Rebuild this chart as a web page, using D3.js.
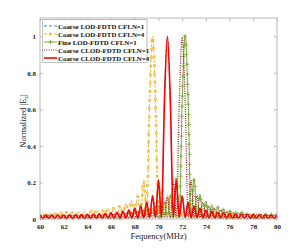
<!DOCTYPE html>
<html><head><meta charset="utf-8">
<script src="https://cdn.jsdelivr.net/npm/d3@7"></script>
<style>
html,body{margin:0;padding:0;background:#fff;}
svg{display:block;}
text{font-family:"Liberation Serif","Times New Roman",serif;}
</style></head>
<body><svg id="chart" width="307" height="248"></svg>
<script>
// ---- data ----
const freq = [60,60.25,60.5,60.75,61,61.25,61.5,61.75,62,62.25,62.5,62.75,63,63.25,63.5,63.75,64,64.25,64.5,64.75,65,65.25,65.5,65.75,66,66.25,66.5,66.75,67,67.25,67.5,67.75,68,68.25,68.5,68.75,69,69.25,69.5,69.75,70,70.25,70.5,70.75,71,71.25,71.5,71.75,72,72.25,72.5,72.75,73,73.25,73.5,73.75,74,74.25,74.5,74.75,75,75.25,75.5,75.75,76,76.25,76.5,76.75,77,77.25,77.5,77.75,78,78.25,78.5,78.75,79,79.25,79.5,79.75,80];

const coarseLOD1 = [0.022,0.006,0.022,0.006,0.023,0.006,0.023,0.006,0.024,0.006,
0.024,0.006,0.025,0.006,0.026,0.006,0.027,0.006,0.028,0.006,
0.030,0.006,0.032,0.006,0.035,0.006,0.039,0.007,0.044,0.007,
0.051,0.007,0.060,0.008,0.074,0.008,0.094,0.009,0.132,0.010,
0.218,0.012,0.650,0.995,0.630,0.012,0.208,0.009,0.124,0.008,
0.089,0.007,0.069,0.007,0.057,0.006,0.048,0.006,0.041,0.006,
0.036,0.006,0.033,0.006,0.030,0.006,0.028,0.006,0.026,0.006,
0.025,0.006,0.024,0.006,0.023,0.006,0.023,0.006,0.022,0.006,
0.022];

const coarseLOD4 = [0.015,0.034,0.015,0.034,0.016,0.035,0.016,0.036,0.017,0.037,
0.017,0.038,0.018,0.040,0.018,0.042,0.019,0.045,0.020,0.048,
0.021,0.052,0.022,0.058,0.024,0.065,0.026,0.075,0.028,0.085,
0.030,0.100,0.032,0.125,0.035,0.210,0.030,0.640,1.000,0.640,
0.025,0.170,0.020,0.110,0.015,0.080,0.012,0.063,0.010,0.052,
0.009,0.045,0.008,0.040,0.008,0.035,0.007,0.032,0.007,0.029,
0.006,0.027,0.006,0.025,0.006,0.024,0.005,0.023,0.005,0.022,
0.005,0.021,0.005,0.021,0.005,0.020,0.005,0.020,0.005,0.020,
0.005];

const fineLOD1 = [0.020,0.003,0.020,0.003,0.020,0.003,0.021,0.003,0.021,0.003,
0.021,0.003,0.022,0.003,0.022,0.003,0.023,0.003,0.023,0.003,
0.024,0.003,0.025,0.003,0.026,0.003,0.028,0.003,0.031,0.004,
0.035,0.004,0.039,0.004,0.044,0.005,0.051,0.005,0.061,0.006,
0.075,0.006,0.096,0.007,0.133,0.008,0.220,0.010,0.650,1.005,
0.650,0.010,0.222,0.009,0.135,0.008,0.098,0.007,0.078,0.006,
0.064,0.006,0.054,0.005,0.047,0.005,0.042,0.005,0.038,0.004,
0.035,0.004,0.032,0.004,0.030,0.004,0.029,0.004,0.027,0.004,
0.026];

const coarseCLOD1 = [0.004,0.020,0.004,0.020,0.004,0.021,0.004,0.021,0.004,0.021,
0.004,0.022,0.004,0.022,0.004,0.023,0.004,0.023,0.004,0.024,
0.004,0.025,0.004,0.026,0.004,0.028,0.004,0.030,0.004,0.034,
0.004,0.037,0.005,0.042,0.005,0.049,0.005,0.058,0.006,0.071,
0.006,0.091,0.007,0.127,0.008,0.212,0.010,0.640,0.995,0.640,
0.010,0.212,0.008,0.127,0.007,0.091,0.006,0.071,0.006,0.058,
0.005,0.049,0.005,0.042,0.005,0.037,0.004,0.034,0.004,0.030,
0.004,0.028,0.004,0.026,0.004,0.025,0.004,0.024,0.004,0.023,
0.004];

const coarseCLOD4 = [0.021,0.004,0.021,0.004,0.021,0.004,0.022,0.004,0.022,0.004,
0.023,0.004,0.023,0.004,0.024,0.004,0.025,0.004,0.026,0.004,
0.028,0.004,0.030,0.004,0.034,0.004,0.037,0.005,0.042,0.005,
0.049,0.005,0.058,0.006,0.071,0.006,0.091,0.007,0.127,0.008,
0.212,0.010,0.640,1.000,0.640,0.010,0.212,0.008,0.127,0.007,
0.091,0.006,0.071,0.006,0.058,0.005,0.049,0.005,0.042,0.005,
0.037,0.004,0.034,0.004,0.030,0.004,0.028,0.004,0.026,0.004,
0.025,0.004,0.024,0.004,0.023,0.004,0.023,0.004,0.022,0.004,
0.022];

const seriesNames = ["Coarse LOD-FDTD CFLN=1","Coarse LOD-FDTD CFLN=4","Fine LOD-FDTD CFLN=1","Coarse CLOD-FDTD CFLN=1","Coarse CLOD-FDTD CFLN=4"];
const xTicks = [60,62,64,66,68,70,72,74,76,78,80];
const yTicks = [0,0.2,0.4,0.6,0.8,1];
const yTickLabels = ["0","0.2","0.4","0.6","0.8","1"];

// ---- styles ----
const styles = [
  {values: coarseLOD1, color:"#2f8fdc", width:1, dash:"3,2", marker:null},
  {values: coarseLOD4, color:"#f0b32a", width:1, dash:"3,2", marker:"square"},
  {values: fineLOD1, color:"#77ac30", width:1, dash:null, marker:"plus"},
  {values: coarseCLOD1, color:"#a2142f", width:1.2, dash:"1,1.3", marker:null},
  {values: coarseCLOD4, color:"#ff0000", width:1.6, dash:null, marker:null}
];

const svg = d3.select("#chart");
const L = 40, R = 277, T = 18, B = 219;
const x = d3.scaleLinear().domain([60,80]).range([L,R]);
const y = d3.scaleLinear().domain([0,1.1]).range([B,T]);

svg.append("defs").append("clipPath").attr("id","clip")
  .append("rect").attr("x",L).attr("y",T-2).attr("width",R-L).attr("height",B-T+4);

const axisColor = "#a8a8a8";
const gx = svg.append("g").attr("transform",`translate(0,${B})`)
  .call(d3.axisBottom(x).tickValues(xTicks).tickSize(-3).tickPadding(5).tickFormat(d3.format("d")));
const gxt = svg.append("g").attr("transform",`translate(0,${T})`)
  .call(d3.axisTop(x).tickValues(xTicks).tickSize(-3).tickFormat(""));
const gy = svg.append("g").attr("transform",`translate(${L},0)`)
  .call(d3.axisLeft(y).tickValues(yTicks).tickSize(-3).tickPadding(4).tickFormat((d,i)=>yTickLabels[i]));
const gyr = svg.append("g").attr("transform",`translate(${R},0)`)
  .call(d3.axisRight(y).tickValues(yTicks).tickSize(-3).tickFormat(""));
[gx,gxt,gy,gyr].forEach(g=>{
  g.select(".domain").remove();
  g.selectAll("line").attr("stroke",axisColor).attr("stroke-width",0.8);
  g.selectAll("text").attr("fill","#222").attr("font-size","7px").attr("font-weight","bold")
   .attr("font-family",'"Liberation Serif",serif');
});

const plot = svg.append("g").attr("clip-path","url(#clip)");
const line = d3.line().x((d,i)=>x(freq[i])).y(d=>y(d)).curve(d3.curveMonotoneX);

styles.forEach(s=>{
  const p = plot.append("path").attr("d",line(s.values)).attr("fill","none")
    .attr("stroke",s.color).attr("stroke-width",s.width)
    .attr("stroke-linejoin","round");
  if (s.dash) p.attr("stroke-dasharray",s.dash);
  if (s.marker) {
    const node = p.node();
    const len = node.getTotalLength();
    const step = s.marker==="square" ? 8.5 : 10;
    const pts = d3.range(0,len,step).map(l=>node.getPointAtLength(l));
    const g = plot.append("g");
    if (s.marker==="square") {
      g.selectAll("rect").data(pts).join("rect")
        .attr("x",d=>d.x-1.1).attr("y",d=>d.y-1.1).attr("width",2.2).attr("height",2.2)
        .attr("fill",s.color).attr("fill-opacity",0.55).attr("stroke",s.color).attr("stroke-width",0.4);
    } else {
      g.selectAll("path").data(pts).join("path")
        .attr("d",d=>`M${d.x-2},${d.y}H${d.x+2}M${d.x},${d.y-2}V${d.y+2}`)
        .attr("stroke",s.color).attr("stroke-width",0.8).attr("fill","none");
    }
  }
});

svg.append("rect").attr("x",L).attr("y",T).attr("width",R-L).attr("height",B-T)
  .attr("fill","none").attr("stroke",axisColor).attr("stroke-width",0.8);

// legend
const lg = svg.append("g");
lg.append("rect").attr("x",42.5).attr("y",19.5).attr("width",104.5).attr("height",43)
  .attr("fill","#fff").attr("stroke","#b0b0b0").attr("stroke-width",0.8);
styles.forEach((s,i)=>{
  const yy = 26 + i*8;
  const ln = lg.append("line").attr("x1",44).attr("x2",57).attr("y1",yy).attr("y2",yy)
    .attr("stroke",s.color).attr("stroke-width",s.width);
  if (s.dash) ln.attr("stroke-dasharray",s.dash);
  if (s.marker==="square") {
    lg.append("rect").attr("x",50.5-1.1).attr("y",yy-1.1).attr("width",2.2).attr("height",2.2)
      .attr("fill",s.color).attr("fill-opacity",0.55).attr("stroke",s.color).attr("stroke-width",0.4);
  } else if (s.marker==="plus") {
    lg.append("path").attr("d",`M48.5,${yy}H52.5M50.5,${yy-2}V${yy+2}`)
      .attr("stroke",s.color).attr("stroke-width",0.8);
  }
  lg.append("text").attr("x",58).attr("y",yy+2.5).attr("font-size","6.9px").attr("font-weight","bold")
    .attr("fill","#111").text(seriesNames[i]);
});

// axis labels
svg.append("text").attr("x",158.5).attr("y",238.5).attr("text-anchor","middle")
  .attr("font-size","8.5px").attr("fill","#222").text("Fequency(MHz)");
const yl = svg.append("text").attr("transform","translate(26,121) rotate(-90)")
  .attr("text-anchor","middle").attr("font-size","8.5px").attr("fill","#222");
yl.append("tspan").text("Normalized |E");
yl.append("tspan").attr("font-size","6px").attr("dy","1.5").text("z");
yl.append("tspan").attr("dy","-1.5").text("|");
</script>
</body></html>
